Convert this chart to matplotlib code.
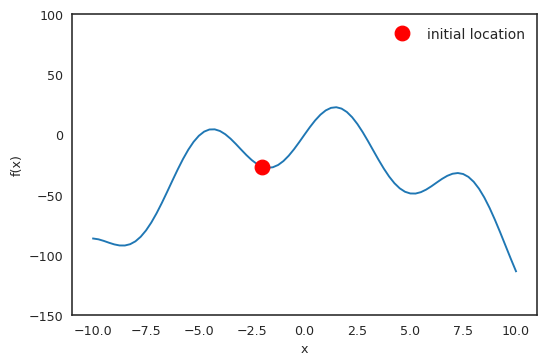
import numpy as np
import matplotlib
matplotlib.use('Agg')
from matplotlib import pyplot as plt

# values, step 0.25 in x
x = np.arange(-10, 10.01, 0.25)
f = [-86.40, -87.07, -88.37, -89.91, -91.30, -92.18, -92.21, -91.13,
     -88.74, -84.93, -79.70, -73.14, -65.43, -56.81, -47.63, -38.23,
     -29.02, -20.35, -12.61, -6.09, -1.03, 2.42, 4.19, 4.31,
     2.92, 0.23, -3.48, -7.86, -12.53, -17.10, -21.21, -24.51,
     -26.73, -27.66, -27.19, -25.29, -22.04, -17.60, -12.24, -6.25,
     0.00, 6.12, 11.74, 16.48, 20.04, 22.16, 22.69, 21.54,
     18.73, 14.39, 8.71, 1.98, -5.47, -13.27, -21.02, -28.35,
     -34.92, -40.44, -44.69, -47.55, -48.97, -49.04, -47.89, -45.77,
     -42.99, -39.89, -36.87, -34.31, -32.58, -31.99, -32.80, -35.20,
     -39.27, -45.00, -52.29, -60.94, -70.70, -81.21, -92.13, -103.05,
     -113.60]

x0 = [-2.0]
f0 = [-26.73]

plt.rcParams['font.family'] = 'DejaVu Sans'
plt.rcParams['text.color'] = '.15'
plt.rcParams['axes.labelcolor'] = '.15'
plt.rcParams['xtick.color'] = '.15'
plt.rcParams['ytick.color'] = '.15'

fig = plt.figure(figsize=(6, 4), dpi=91.2)
ax = fig.add_axes([0.1316, 0.1342, 0.85, 0.8247])
ax.plot(x, f, color='#1f77b4', lw=1.5)
ax.plot(x0, f0, 'o', color='red', ms=11.5, label='initial location')
ax.set_ylim(-150, 100)
ax.set_xlim(-11, 11)
ax.set_xticks(np.arange(-10, 10.1, 2.5))
ax.set_xlabel('x')
ax.set_ylabel('f(x)')
for s in ax.spines.values():
	s.set_color('.15')
	s.set_linewidth(1.25)
ax.tick_params(length=0, pad=7)
ax.legend(loc='upper right', frameon=False, numpoints=1, fontsize=11)

fig.savefig('out.png', dpi=91.2)
